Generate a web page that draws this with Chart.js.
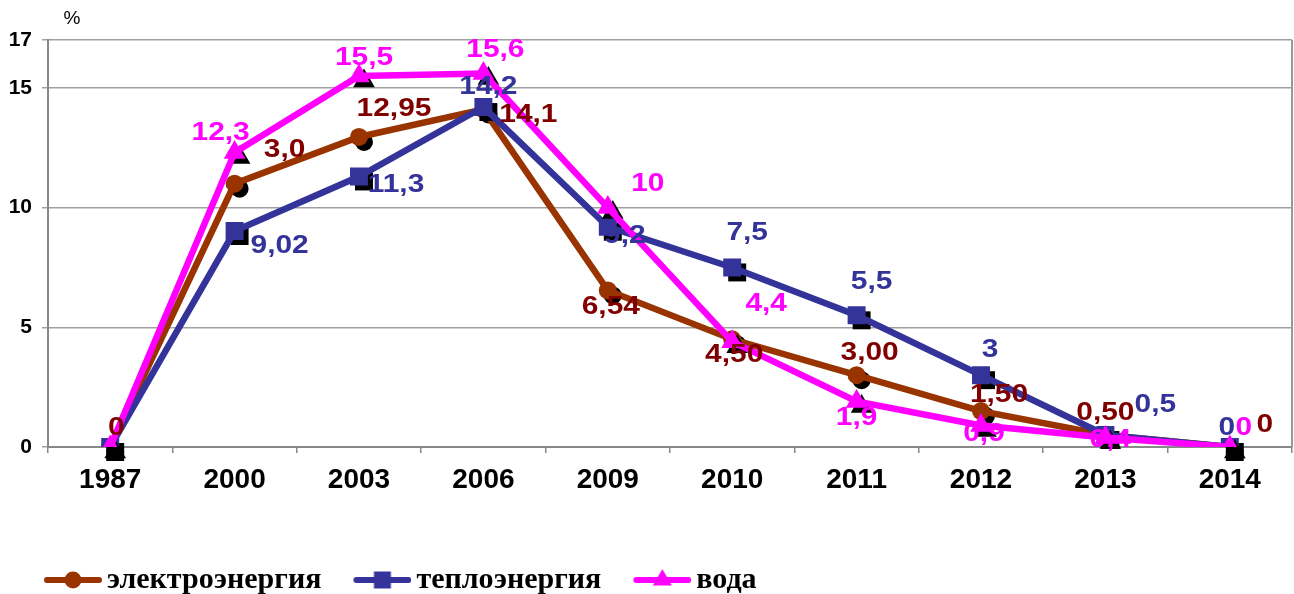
<!DOCTYPE html>
<html><head><meta charset="utf-8">
<script src="https://cdn.jsdelivr.net/npm/chart.js@4.4.1/dist/chart.umd.min.js"></script>
<style>html,body{margin:0;padding:0;background:#fff;overflow:hidden}#wrap{width:1294px;height:594px;position:relative}canvas{display:block}</style>
</head><body><div id="wrap"><canvas id="c" width="1294" height="594"></canvas></div>
<script>
// ---- data ----
const categories = ['1987','2000','2003','2006','2009','2010','2011','2012','2013','2014'];
const seriesNames = ['электроэнергия','теплоэнергия','вода'];
const electricity = [0, 11.0, 12.95, 14.1, 6.54, 4.5, 3.0, 1.5, 0.5, 0];
const electricityLabels = ['0','3,0','12,95','14,1','6,54','4,50','3,00','1,50','0,50','0'];
const heat = [0, 9.02, 11.3, 14.2, 9.2, 7.5, 5.5, 3, 0.5, 0];
const heatLabels = ['','9,02','11,3','14,2','9,2','7,5','5,5','3','0,5','0'];
const water = [0, 12.3, 15.5, 15.6, 10, 4.4, 1.9, 0.9, 0.4, 0];
const waterLabels = ['','12,3','15,5','15,6','10','4,4','1,9','0,9','0,4','0'];
const yTicks = [0, 5, 10, 15, 17];
const yUnit = '%';

// ---- label placement (pixel offsets from each point) ----
const electricityLabelOffsets = [[6,-19],[50,-34],[35,-28],[45,5],[3,16],[2,16],[13,-22],[18,-16],[0,-22],[35,-22]];
const heatLabelOffsets = [[0,0],[45,15],[37,8],[5,-20],[17,9],[15,-35],[15,-33],[9,-25],[50,-30],[-3,-19]];
const waterLabelOffsets = [[0,0],[-14,-20],[5,-18],[12,-24],[40,-24],[34,-38],[0,16],[3,8],[5,2],[14,-19]];

const COLORS = {
  el: '#993300', elText: '#800000',
  heat: '#333399', heatText: '#333399',
  water: '#FF00FF', waterText: '#FF00FF'
};
const SANS = '"Liberation Sans", Arial, sans-serif';
const LEGEND_SHIFT_X = 12;

function drawMarker(ctx, style, x, y, r) {
  ctx.beginPath();
  if (style === 'circle') {
    ctx.arc(x, y, r, 0, Math.PI * 2);
  } else if (style === 'rect') {
    const s = r * Math.SQRT1_2;
    ctx.rect(x - s, y - s, 2 * s, 2 * s);
  } else if (style === 'triangle') {
    ctx.moveTo(x, y - r);
    ctx.lineTo(x + r * Math.sin(2 * Math.PI / 3), y - r * Math.cos(2 * Math.PI / 3));
    ctx.lineTo(x + r * Math.sin(4 * Math.PI / 3), y - r * Math.cos(4 * Math.PI / 3));
    ctx.closePath();
  }
  ctx.fill();
}

// legend symbol: line with marker; image is padded on the left so the symbol sits right of the box centre
function legendImage(color, style, r) {
  const cv = document.createElement('canvas');
  cv.width = 86; cv.height = 26;
  const c = cv.getContext('2d');
  c.strokeStyle = color; c.lineWidth = 6; c.lineCap = 'round';
  c.beginPath(); c.moveTo(31, 13); c.lineTo(83, 13); c.stroke();
  c.fillStyle = color;
  drawMarker(c, style, 57, 13, r);
  return cv;
}

const shadowPlugin = {
  id: 'markerShadow',
  beforeDatasetDraw(chart, args) {
    const ds = chart.data.datasets[args.index];
    const ctx = chart.ctx;
    ctx.save();
    ctx.fillStyle = '#000';
    args.meta.data.forEach(el => {
      drawMarker(ctx, ds.pointStyle, el.x + 5, el.y + 5, ds.pointRadius);
    });
    ctx.restore();
  }
};

const labelPlugin = {
  id: 'valueLabels',
  afterDatasetsDraw(chart) {
    const ctx = chart.ctx;
    chart.data.datasets.forEach((ds, di) => {
      const meta = chart.getDatasetMeta(di);
      meta.data.forEach((el, i) => {
        const t = ds.valueLabels[i];
        if (!t) return;
        const off = ds.labelOffsets[i];
        ctx.save();
        ctx.translate(el.x + off[0], el.y + off[1]);
        ctx.scale(1.15, 1);
        ctx.font = 'bold 26px ' + SANS;
        ctx.textAlign = 'center';
        ctx.textBaseline = 'middle';
        ctx.fillStyle = ds.labelColor;
        ctx.fillText(t, 0, 0);
        ctx.restore();
      });
    });
  }
};

const legendShiftPlugin = {
  id: 'legendShift',
  afterLayout(chart) {
    if (chart.legend) {
      chart.legend.left += LEGEND_SHIFT_X;
      chart.legend.right += LEGEND_SHIFT_X;
    }
  }
};

const framePlugin = {
  id: 'frame',
  afterDraw(chart) {
    const ctx = chart.ctx, a = chart.chartArea;
    ctx.save();
    ctx.strokeStyle = '#999';
    ctx.lineWidth = 2;
    ctx.beginPath(); ctx.moveTo(a.right, a.top); ctx.lineTo(a.right, a.bottom); ctx.stroke();
    ctx.fillStyle = '#000';
    ctx.font = '19px ' + SANS;
    ctx.textAlign = 'center'; ctx.textBaseline = 'middle';
    ctx.fillText(yUnit, 72, 19);
    ctx.restore();
  }
};

const markerStyles = ['circle', 'rect', 'triangle'];
const markerRadii = [9, 12.7, 12.5];
const legendRadii = [8.5, 12, 11];
const lineColors = [COLORS.el, COLORS.heat, COLORS.water];

new Chart(document.getElementById('c'), {
  type: 'line',
  data: {
    labels: categories,
    datasets: [
      { label: seriesNames[0], data: electricity, valueLabels: electricityLabels, labelOffsets: electricityLabelOffsets, labelColor: COLORS.elText,
        borderColor: COLORS.el, backgroundColor: COLORS.el, borderWidth: 6.5, pointStyle: 'circle', pointRadius: markerRadii[0],
        pointBackgroundColor: COLORS.el, pointBorderWidth: 0, tension: 0, order: 3 },
      { label: seriesNames[1], data: heat, valueLabels: heatLabels, labelOffsets: heatLabelOffsets, labelColor: COLORS.heatText,
        borderColor: COLORS.heat, backgroundColor: COLORS.heat, borderWidth: 6.5, pointStyle: 'rect', pointRadius: markerRadii[1],
        pointBackgroundColor: COLORS.heat, pointBorderWidth: 0, tension: 0, order: 2 },
      { label: seriesNames[2], data: water, valueLabels: waterLabels, labelOffsets: waterLabelOffsets, labelColor: COLORS.waterText,
        borderColor: COLORS.water, backgroundColor: COLORS.water, borderWidth: 6.5, pointStyle: 'triangle', pointRadius: markerRadii[2],
        pointBackgroundColor: COLORS.water, pointBorderWidth: 0, tension: 0, order: 1 }
    ]
  },
  options: {
    responsive: false,
    animation: false,
    devicePixelRatio: 1,
    layout: { autoPadding: false, padding: { left: 0, top: 40, right: 2, bottom: -11 } },
    plugins: {
      tooltip: { enabled: false },
      legend: {
        position: 'bottom',
        align: 'start',
        labels: {
          usePointStyle: true,
          pointStyleWidth: 66,
          padding: 14,
          color: '#000',
          font: { family: '"Liberation Serif", "Times New Roman", serif', size: 30, weight: 'bold' },
          sort: (a, b) => a.datasetIndex - b.datasetIndex,
          generateLabels(chart) {
            return chart.data.datasets.map((ds, i) => ({
              text: ds.label,
              datasetIndex: i,
              fillStyle: lineColors[i],
              strokeStyle: lineColors[i],
              lineWidth: 0,
              hidden: false,
              fontColor: '#000',
              pointStyle: legendImage(lineColors[i], markerStyles[i], legendRadii[i])
            }));
          }
        }
      }
    },
    scales: {
      x: {
        type: 'category',
        offset: true,
        grid: { offset: true, drawOnChartArea: false, drawTicks: true, tickLength: 6, color: '#888', lineWidth: 1.5 },
        border: { color: '#888', width: 2 },
        ticks: { color: '#000', padding: 10, maxRotation: 0, autoSkip: false, font: { family: SANS, size: 28, weight: 'bold' } },
        afterFit(scale) { scale.height = 104; scale.paddingLeft = 0; scale.paddingRight = 0; }
      },
      y: {
        min: 0, max: 17,
        afterBuildTicks(scale) { scale.ticks = yTicks.map(v => ({ value: v })); },
        grid: { color: '#a0a0a0', lineWidth: 1.5, drawTicks: true, tickLength: 6 },
        border: { color: '#888', width: 2 },
        ticks: { color: '#000', padding: 10, font: { family: SANS, size: 21, weight: 'bold' }, callback: v => String(v) },
        afterFit(scale) { scale.width = 48; }
      }
    }
  },
  plugins: [shadowPlugin, labelPlugin, legendShiftPlugin, framePlugin]
});
</script>
</body></html>
